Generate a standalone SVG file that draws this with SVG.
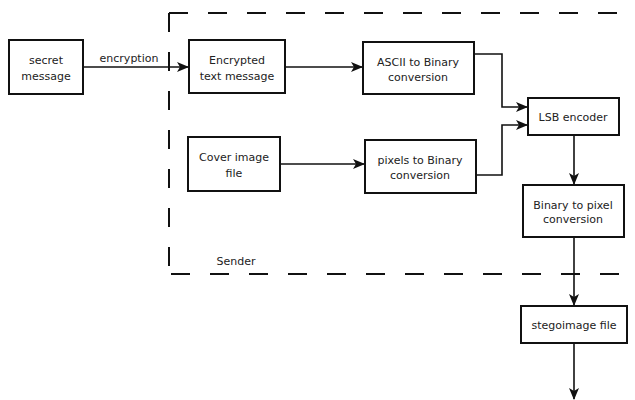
<svg xmlns="http://www.w3.org/2000/svg" width="635" height="400" viewBox="0 0 635 400">
<defs>
<style>
.box{fill:#fff;stroke:#111;stroke-width:2}
.t{font-family:"DejaVu Sans",sans-serif;font-size:11px;fill:#222;text-anchor:middle}
.c{fill:none;stroke:#111;stroke-width:1.6}
.dash{fill:none;stroke:#111;stroke-width:2;stroke-dasharray:19 20}
</style>
<marker id="ah" viewBox="0 0 12 10" refX="11" refY="5" markerWidth="12" markerHeight="10" markerUnits="userSpaceOnUse" orient="auto">
<path d="M0,0 L12,5 L0,10 L3,5 Z" fill="#111"/>
</marker>
</defs>
<rect width="635" height="400" fill="#fff"/>
<g id="sender-boundary">
<path class="dash" d="M169,13 H635"/>
<path class="dash" d="M169,13 V274"/>
<path class="dash" d="M171,274 H635"/>
<text class="t" x="236" y="265">Sender</text>
</g>
<g id="connectors">
<path class="c" d="M83,67 H188" marker-end="url(#ah)"/>
<text class="t" x="129" y="62">encryption</text>
<path class="c" d="M285,67 H362" marker-end="url(#ah)"/>
<path class="c" d="M280,164 H364" marker-end="url(#ah)"/>
<path class="c" d="M474,54 H502 V107 H527" marker-end="url(#ah)"/>
<path class="c" d="M476,175 H502 V125 H527" marker-end="url(#ah)"/>
<path class="c" d="M574,135 V184" marker-end="url(#ah)"/>
<path class="c" d="M574,237 V305" marker-end="url(#ah)"/>
<path class="c" d="M574,343 V399" marker-end="url(#ah)"/>
</g>
<g id="secret-message">
<rect class="box" x="9" y="40" width="74" height="54"/>
<text class="t" x="46" y="64">secret</text>
<text class="t" x="46" y="80">message</text>
</g>
<g id="encrypted-text">
<rect class="box" x="189" y="40" width="96" height="53"/>
<text class="t" x="237" y="64">Encrypted</text>
<text class="t" x="237" y="80">text message</text>
</g>
<g id="ascii-binary">
<rect class="box" x="363" y="42" width="111" height="52"/>
<text class="t" x="418" y="66">ASCII to Binary</text>
<text class="t" x="418" y="81">conversion</text>
</g>
<g id="cover-image">
<rect class="box" x="188" y="137" width="92" height="54"/>
<text class="t" x="234" y="161">Cover image</text>
<text class="t" x="234" y="177">file</text>
</g>
<g id="pixels-binary">
<rect class="box" x="365" y="140" width="111" height="53"/>
<text class="t" x="420" y="164">pixels to Binary</text>
<text class="t" x="420" y="179">conversion</text>
</g>
<g id="lsb-encoder">
<rect class="box" x="528" y="98" width="91" height="37"/>
<text class="t" x="573" y="121">LSB encoder</text>
</g>
<g id="binary-pixel">
<rect class="box" x="523" y="185" width="101" height="52"/>
<text class="t" x="573" y="209">Binary to pixel</text>
<text class="t" x="573" y="223">conversion</text>
</g>
<g id="stegoimage">
<rect class="box" x="521" y="306" width="106" height="37"/>
<text class="t" x="574" y="329">stegoimage file</text>
</g>
</svg>
